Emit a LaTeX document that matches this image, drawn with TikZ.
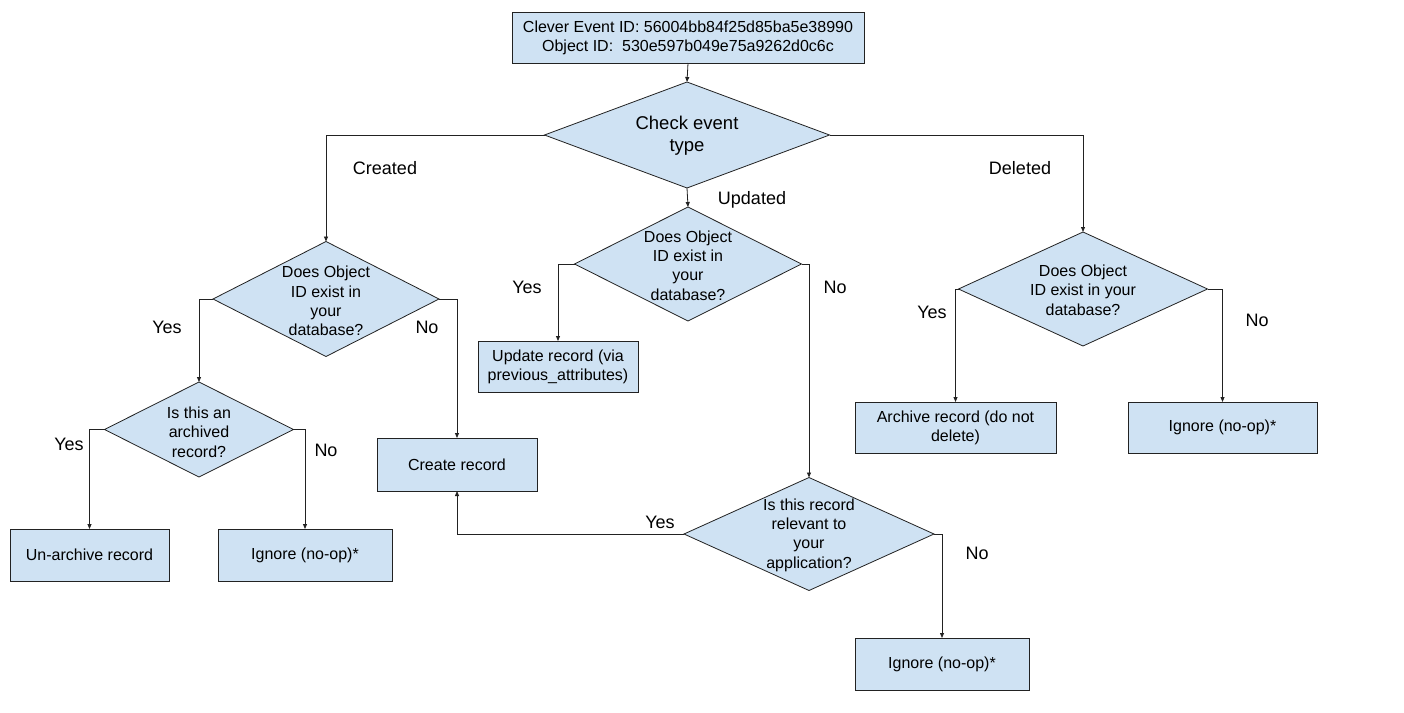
\documentclass[tikz,border=0pt]{standalone}
\usepackage{fontspec}
\setmainfont{Liberation Sans}
\usetikzlibrary{shapes.geometric,arrows.meta}
\definecolor{boxfill}{HTML}{CFE2F3}
\definecolor{edgecol}{HTML}{222222}
\begin{document}
\begin{tikzpicture}[x=1pt,y=-1pt,
  box/.style={rectangle, draw=edgecol, fill=boxfill, line width=0.8pt, inner sep=0pt, outer sep=0pt, align=center, font=\fontsize{16}{19}\selectfont},
  dia/.style={diamond, draw=edgecol, fill=boxfill, line width=0.8pt, inner sep=0pt, outer sep=0pt},
  dtext/.style={align=center, inner sep=0pt, font=\fontsize{16}{19.3}\selectfont},
  lbl/.style={inner sep=0pt, font=\fontsize{18}{22}\selectfont},
  arr/.style={draw=edgecol, line width=0.8pt, -{Triangle[length=5pt,width=4pt]}}]
\fill[white] (0,0) rectangle (1404,712);
\useasboundingbox (0,0) rectangle (1404,712);

% boxes
\node[box, minimum width=352pt, minimum height=51pt] (top) at (688,37.5) {Clever Event ID: 56004bb84f25d85ba5e38990\\Object ID:\ \ 530e597b049e75a9262d0c6c};
\node[box, minimum width=160pt, minimum height=51pt] (upd) at (558,366.5) {Update record (via\\previous\_attributes)};
\node[box, minimum width=160pt, minimum height=53pt] (create) at (457,464.5) {Create record};
\node[box, minimum width=159pt, minimum height=52pt] (unarch) at (89.5,555) {Un-archive record};
\node[box, minimum width=174pt, minimum height=52pt] (ign1) at (305,555) {Ignore (no-op)*};
\node[box, minimum width=201pt, minimum height=51pt] (arch) at (955.5,427.5) {Archive record (do not\\delete)};
\node[box, minimum width=189pt, minimum height=51pt] (ign2) at (1222.5,427.5) {Ignore (no-op)*};
\node[box, minimum width=174pt, minimum height=52pt] (ign3) at (942,664) {Ignore (no-op)*};

% diamonds
\node[dia, minimum width=285pt, minimum height=106pt] (ce) at (687,135) {};
\node[align=center, inner sep=0pt, font=\fontsize{18.5}{22}\selectfont] (cet) at (687,136) {Check event\\type};
\node[dia, minimum width=226pt, minimum height=115pt] (d1) at (326,299) {};
\node[dtext] (d1t) at (326,301) {Does Object\\ID exist in\\your\\database?};
\node[dia, minimum width=189pt, minimum height=95pt] (d2) at (199,429.5) {};
\node[dtext] (d2t) at (199,432) {Is this an\\archived\\record?};
\node[dia, minimum width=227pt, minimum height=114pt] (d3) at (688,264) {};
\node[dtext] (d3t) at (688,265.5) {Does Object\\ID exist in\\your\\database?};
\node[dia, minimum width=249pt, minimum height=114pt] (d4) at (1083,289) {};
\node[dtext] (d4t) at (1083,290) {Does Object\\ID exist in your\\database?};
\node[dia, minimum width=250pt, minimum height=113pt] (d5) at (809,534) {};
\node[dtext] (d5t) at (809,535) {Is this record\\relevant to\\your\\application?};

% connectors
\draw[arr] (top.south) -- (ce.north);
\draw[arr] (ce.west) -| (d1.north);
\draw[arr] (ce.south) -- (d3.north);
\draw[arr] (ce.east) -| (d4.north);
\draw[arr] (d1.west) -| (d2.north);
\draw[arr] (d1.east) -| (create.north);
\draw[arr] (d2.west) -| (unarch.north);
\draw[arr] (d2.east) -| (ign1.north);
\draw[arr] (d3.west) -| (upd.north);
\draw[arr] (d3.east) -| (d5.north);
\draw[arr] (d5.west) -| (create.south);
\draw[arr] (d5.east) -| (ign3.north);
\draw[arr] (d4.west) -| (arch.north);
\draw[arr] (d4.east) -| (ign2.north);

% labels
\node[lbl] (lc) at (385,168) {Created};
\node[lbl] (ld) at (1020,168) {Deleted};
\node[lbl] (lu) at (752,200) {Updated};
\node[lbl] (y1) at (167,327) {Yes};
\node[lbl] (n1) at (427,327) {No};
\node[lbl] (y2) at (69,444) {Yes};
\node[lbl] (n2) at (326,450) {No};
\node[lbl] (y3) at (527,287) {Yes};
\node[lbl] (n3) at (835,287) {No};
\node[lbl] (y4) at (932,312) {Yes};
\node[lbl] (n4) at (1257,320) {No};
\node[lbl] (y5) at (660,522) {Yes};
\node[lbl] (n5) at (977,553) {No};
\end{tikzpicture}
\end{document}
